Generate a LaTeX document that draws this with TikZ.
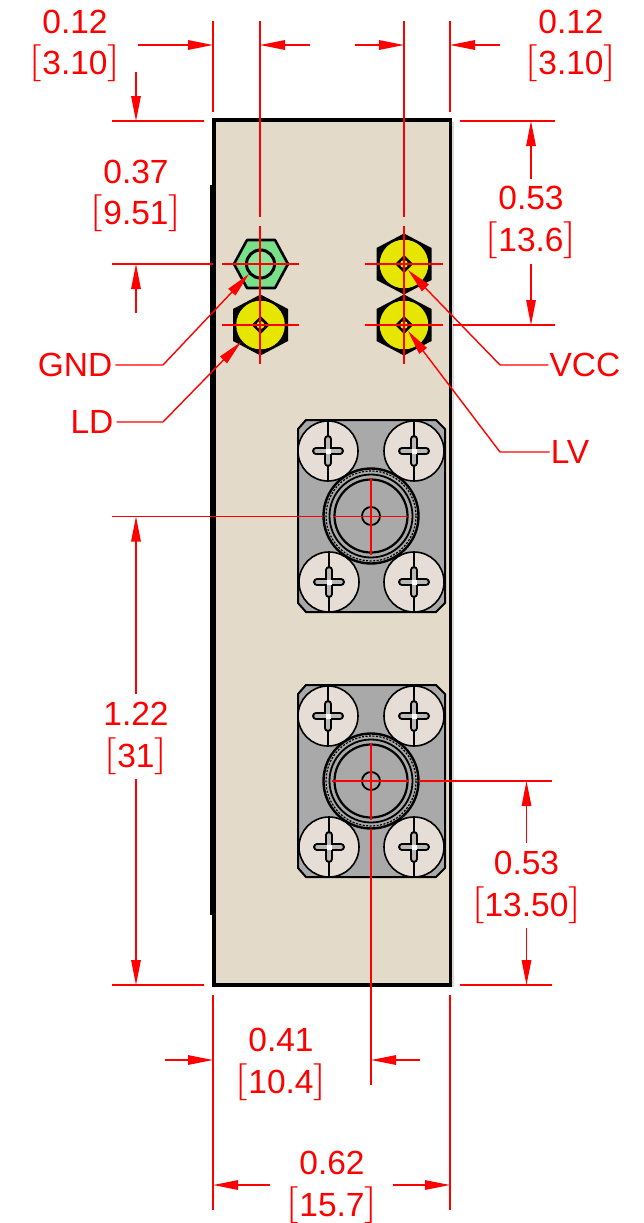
\documentclass[tikz,border=0pt]{standalone}
\usepackage{fontspec}
\usepackage{graphicx}
\setmainfont{Liberation Sans}
\newfontfamily\brkfont{Latin Modern Roman}
\usetikzlibrary{arrows.meta,calc}
\definecolor{body}{HTML}{E3DACA}
\definecolor{plate}{HTML}{A9A9A9}
\definecolor{screwface}{HTML}{E6DED6}
\definecolor{nutyellow}{HTML}{E6E600}
\definecolor{nutgreen}{HTML}{78E088}
\newcommand{\brkglyph}[1]{\raisebox{2.2pt}{\scalebox{1.45}[1]{\fontsize{37}{37}\brkfont #1}}}
\newcommand{\brk}[1]{\brkglyph{[}#1\brkglyph{]}}
\tikzset{
  dimtext/.style={text=red,font=\fontsize{33.5}{33.5}\selectfont,inner sep=0pt,anchor=center},
  ext/.style={draw=red,line width=1.4pt},
  dimarrow/.style={draw=red,line width=1.4pt,-{Triangle[length=25pt,width=9.5pt]},shorten >=0pt},
  screw/.pic={
    \draw[black,line width=1.6pt,fill=screwface] (0,0) circle (30);
    \draw[black,line width=1.8pt] (0,-30) -- (0,30);
    \draw[black,line width=8pt,line cap=round] (-12,0) -- (12,0) (0,-12) -- (0,12);
    \draw[plate!70!screwface,line width=3.5pt,line cap=round] (-12,0) -- (12,0) (0,-12) -- (0,12);
    \fill[white] (-2.5,-2.5) rectangle (2.5,2.5);
  },
  nut/.pic={
    \fill[black,line join=round] (0,-30.5) -- (27.5,-16) -- (27.5,16) -- (0,30.5) -- (-27.5,16) -- (-27.5,-16) -- cycle;
    \fill[nutyellow] (0,0) circle (24.3);
    \fill[black] (-9,0) -- (0,-9) -- (9,0) -- (0,9) -- cycle;
    \fill[nutyellow] (0,0) circle (4);
  },
  mount/.pic={
    \draw[black,line width=2pt,fill=plate] (-65,-96) -- (65,-96) -- (74,-87) -- (74,87) -- (65,96) -- (-65,96) -- (-73,87) -- (-73,-87) -- cycle;
    \path (-43,-65) pic {screw} (43,-65) pic {screw} (-42,66) pic {screw} (43,66) pic {screw};
    \draw[black,line width=2.4pt,fill=plate] (0,0) circle (47.5);
    \draw[black,line width=1.2pt,dash pattern=on 2pt off 1.5pt] (0,0) circle (45);
    \draw[black,line width=1.8pt] (0,0) circle (41.5);
    \draw[black,line width=2.2pt] (0,0) circle (36.5);
    \draw[black,line width=1.8pt] (0,0) circle (9);
  }
}
\begin{document}
\begin{tikzpicture}[x=1pt,y=-1pt]
\useasboundingbox (0,0) rectangle (644,1223);
% enclosure
\fill[gray!30] (452,122) rectangle (454,987);
\draw[black,line width=3.6pt,fill=body] (214,120) rectangle (450.5,985);
\fill[black] (209.5,185) rectangle (214,915);
% nuts
\draw[black,line width=2.6pt,fill=nutgreen,line join=round] (234,264) -- (247,240) -- (275,240) -- (288,264) -- (275,288) -- (247,288) -- cycle;
\draw[black,line width=3pt,fill=nutgreen!85!white] (260.5,264) circle (14);
\path (260.5,325) pic {nut} (404,264) pic {nut} (404,325) pic {nut};
% connector plates
\path (371,516) pic {mount} (371,781) pic {mount};

% named reference points
\coordinate (L) at (213,45); \coordinate (G) at (260,45);
\coordinate (V) at (404,45); \coordinate (R) at (450,45);
\coordinate (LL) at (213,1060); \coordinate (C) at (371,1060);
\coordinate (LB) at (213,1185); \coordinate (RB) at (450,1185);

% extension lines
\draw[ext] (213,21) -- (213,112);
\draw[ext] (450,21) -- (450,112);
\draw[ext] (260,21) -- (260,217) (260,226) -- (260,364);
\draw[ext] (404,21) -- (404,217) (404,226) -- (404,364);
\draw[ext] (112,121) -- (204,121);
\draw[ext] (112,264) -- (213,264) (222,264) -- (299,264);
\draw[ext] (222,325) -- (299,325);
\draw[ext] (365,264) -- (443,264);
\draw[ext] (365,325) -- (443,325) (453,325) -- (555,325);
\draw[ext] (460,121) -- (555,121);
\draw[ext] (112,516.5) -- (323,516.5) (333,516.5) -- (409,516.5);
\draw[ext] (371,478) -- (371,555);
\draw[ext] (332,781) -- (409,781) (419,781) -- (552,781);
\draw[ext] (371,743) -- (371,820) (371,829) -- (371,1085);
\draw[ext] (112,985) -- (204,985);
\draw[ext] (460,985) -- (552,985);
\draw[ext] (213,995) -- (213,1210);
\draw[ext] (450,995) -- (450,1210);

% dimension arrows
\draw[dimarrow] (138,45) -- (L);
\draw[dimarrow] (310,45) -- (G);
\draw[dimarrow] (355,45) -- (V);
\draw[dimarrow] (500,45) -- (R);
\draw[dimarrow] (136,72) -- (136,121);
\draw[dimarrow] (136,313) -- (136,264);
\draw[dimarrow] (531,179) -- (531,121);
\draw[dimarrow] (531,264) -- (531,325);
\draw[dimarrow] (136,694) -- (136,516.5);
\draw[dimarrow] (136,779) -- (136,985);
\draw[dimarrow] (526.5,843) -- (526.5,781);
\draw[dimarrow] (526.5,928) -- (526.5,985);
\draw[dimarrow] (165,1060) -- (LL);
\draw[dimarrow] (420,1060) -- (C);
\draw[dimarrow] (270,1185) -- (LB);
\draw[dimarrow] (393,1185) -- (RB);

% dimension text
\node[dimtext] (t1a) at (75,21.5) {0.12};
\node[dimtext] (t1b) at (75,63.5) {\brk{3.10}};
\node[dimtext] (t2a) at (571,21.5) {0.12};
\node[dimtext] (t2b) at (571,63.5) {\brk{3.10}};
\node[dimtext] (t3a) at (136,171.5) {0.37};
\node[dimtext] (t3b) at (136,213.5) {\brk{9.51}};
\node[dimtext] (t4a) at (531,198) {0.53};
\node[dimtext] (t4b) at (531,240.5) {\brk{13.6}};
\node[dimtext] (t5a) at (136,713.5) {1.22};
\node[dimtext] (t5b) at (136,756.5) {\brk{31}};
\node[dimtext] (t6a) at (526.5,862.5) {0.53};
\node[dimtext] (t6b) at (526.5,905.5) {\brk{13.50}};
\node[dimtext] (t7a) at (281,1039.5) {0.41};
\node[dimtext] (t7b) at (281,1082.5) {\brk{10.4}};
\node[dimtext] (t8a) at (332,1162.5) {0.62};
\node[dimtext] (t8b) at (332,1205.5) {\brk{15.7}};

% pin labels and leaders
\node[dimtext] (gnd) at (75,365) {GND};
\node[dimtext] (ld) at (92,422) {LD};
\node[dimtext] (vcc) at (585,365) {VCC};
\node[dimtext] (lv) at (570,452) {LV};
\coordinate (gndpin) at (249,274);
\coordinate (ldpin) at (241,342);
\coordinate (vccpin) at (408,270);
\coordinate (lvpin) at (408,331);
\draw[dimarrow] ($(gnd.east)+(3,0)$) -- (163,365) -- (gndpin);
\draw[dimarrow] ($(ld.east)+(3,0)$) -- (163,422) -- (ldpin);
\draw[dimarrow] ($(vcc.west)+(-1,0)$) -- (500,365) -- (vccpin);
\draw[dimarrow] ($(lv.west)+(-1,0)$) -- (500,452) -- (lvpin);
\end{tikzpicture}
\end{document}
